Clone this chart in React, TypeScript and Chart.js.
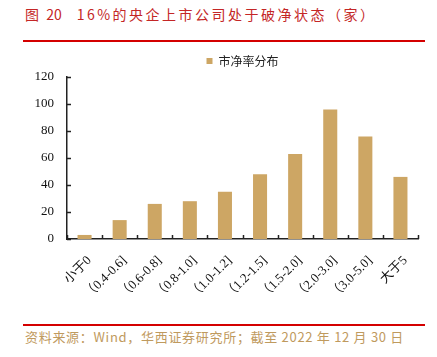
import React, { useEffect, useRef } from "react";
import { Chart, registerables } from "chart.js";

Chart.register(...registerables);

const categories = ["小于0", "（0.4-0.6]", "（0.6-0.8]", "（0.8-1.0]", "（1.0-1.2]", "（1.2-1.5]", "（1.5-2.0]", "（2.0-3.0]", "（3.0-5.0]", "大于5"];
const seriesName = "市净率分布";
const values = [3, 14, 26, 28, 35, 48, 63, 96, 76, 46];
const yMin = 0;
const yMax = 120;
const yStep = 20;

const titleText = "图 20";
const titleMain = "16%的央企上市公司处于破净状态（家）";
const sourceText = "资料来源：Wind，华西证券研究所；截至 2022 年 12 月 30 日";

const innerTicks = {
  id: "innerTicks",
  afterDraw(chart: any) {
    const { ctx, chartArea, scales } = chart;
    const x = scales.x;
    const y = scales.y;
    ctx.save();
    ctx.strokeStyle = "#222";
    ctx.lineWidth = 1.5;
    y.ticks.forEach((_t: any, i: number) => {
      const py = Math.round(y.getPixelForTick(i)) + 0.5;
      ctx.beginPath();
      ctx.moveTo(chartArea.left, py);
      ctx.lineTo(chartArea.left + 4, py);
      ctx.stroke();
    });
    for (let i = 0; i <= categories.length; i++) {
      const px = Math.round(x.getPixelForValue(i - 0.5)) + 0.5;
      ctx.beginPath();
      ctx.moveTo(px, chartArea.bottom);
      ctx.lineTo(px, chartArea.bottom - 4);
      ctx.stroke();
    }
    ctx.restore();
  },
};

function BarChart() {
  const ref = useRef<HTMLCanvasElement>(null);
  useEffect(() => {
    if (!ref.current) return;
    const chart = new Chart(ref.current, {
      type: "bar",
      data: {
        labels: categories,
        datasets: [
          {
            label: seriesName,
            data: values,
            backgroundColor: "#CDA664",
            borderWidth: 0,
            categoryPercentage: 1,
            barPercentage: 0.4,
          },
        ],
      },
      options: {
        responsive: false,
        animation: false,
        layout: { padding: { left: 0, right: 19, top: 3, bottom: 0 } },
        plugins: {
          tooltip: { enabled: false },
          legend: {
            display: true,
            position: "top",
            fullSize: false,
            labels: {
              boxWidth: 6,
              boxHeight: 6,
              padding: 8,
              color: "#222",
              font: { family: "'Noto Sans CJK SC'", size: 12 },
            },
          },
        },
        scales: {
          x: {
            grid: { display: false, drawTicks: false },
            border: { display: true, color: "#222", width: 1.5 },
            ticks: {
              minRotation: 45,
              maxRotation: 45,
              autoSkip: false,
              padding: 14,
              labelOffset: 5,
              color: "#111",
              font: { family: "'Liberation Serif', 'Noto Sans CJK SC'", size: 13 },
            },
            afterFit(scale: any) {
              scale.height = 81;
            },
          },
          y: {
            min: yMin,
            max: yMax,
            grid: { display: false, drawTicks: false },
            border: { display: true, color: "#222", width: 1.5 },
            ticks: {
              stepSize: yStep,
              padding: 13,
              color: "#111",
              font: { family: "'Liberation Serif'", size: 13 },
            },
            afterFit(scale: any) {
              scale.width = 67;
            },
          },
        },
      },
      plugins: [innerTicks],
    });
    return () => chart.destroy();
  }, []);
  return <canvas ref={ref} width={437} height={276} style={{ display: "block" }} />;
}

export default function App() {
  return (
    <div style={{ position: "absolute", left: 0, top: 0, width: 437, height: 357, background: "#fff", overflow: "hidden" }}>
      <div
        style={{
          position: "absolute",
          left: 25,
          top: 5,
          whiteSpace: "pre",
          color: "#C42626",
          fontFamily: "'Noto Sans CJK SC'",
          fontSize: 14,
          lineHeight: "18px",
        }}
      >
        <span style={{ wordSpacing: 4 }}>{titleText}</span>
        <span style={{ marginLeft: 15, letterSpacing: 2.5 }}>{titleMain}</span>
      </div>
      <div style={{ position: "absolute", left: 23, top: 40, width: 402, height: 2, background: "#D40000" }} />
      <div style={{ position: "absolute", left: 0, top: 44 }}>
        <BarChart />
      </div>
      <div style={{ position: "absolute", left: 23, top: 324, width: 402, height: 2, background: "#D40000" }} />
      <div
        style={{
          position: "absolute",
          left: 25,
          top: 328,
          whiteSpace: "pre",
          color: "#BF9A5E",
          fontFamily: "'Noto Sans CJK SC'",
          fontSize: 13,
          lineHeight: "18px",
          letterSpacing: 0.7,
        }}
      >
        {sourceText}
      </div>
    </div>
  );
}
